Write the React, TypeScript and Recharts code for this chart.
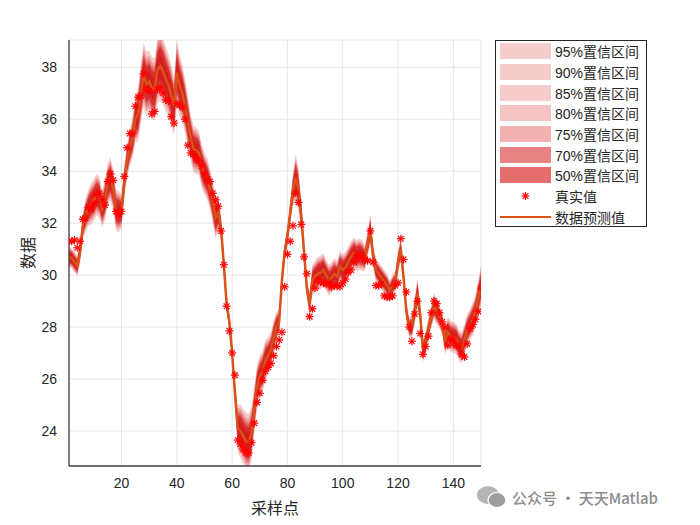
import React from 'react';
import { ComposedChart, Area, Line, Scatter, XAxis, YAxis, CartesianGrid } from 'recharts';

// sample index 1..150
const sampleIdx = Array.from({ length: 150 }, (_, i) => i + 1);

const actual = [
  31.3, 31.3, 31.35, 31.05, 31.3, 32.15, 32.2, 32.6, 32.55, 32.75,
  33.1, 33.15, 32.9, 32.7, 33.6, 33.9, 33.65, 32.45, 32.35, 32.45,
  33.8, 34.9, 35.45, 35.45, 36.5, 36.85, 36.9, 37.75, 37.15, 37.1,
  36.2, 36.3, 37.15, 37.2, 37.0, 36.75, 36.7, 36.1, 35.85, 36.6,
  36.55, 36.45, 36.0, 35.0, 34.7, 34.65, 34.5, 34.4, 34.2, 33.9,
  33.7, 33.6, 33.15, 32.9, 32.65, 31.7, 30.4, 28.8, 27.85, 27.0,
  26.15, 23.65, 23.5, 23.3, 23.15, 23.15, 23.55, 24.3, 25.1, 25.45,
  25.95, 26.3, 26.45, 26.6, 26.9, 27.25, 27.5, 27.8, 29.55, 30.8,
  31.3, 31.9, 33.15, 32.8, 31.95, 30.7, 30.05, 28.4, 28.7, 29.5,
  29.8, 29.75, 29.7, 29.65, 29.7, 29.55, 29.6, 29.6, 29.55, 29.7,
  29.85, 30.1, 30.2, 30.5, 30.75, 30.7, 30.75, 30.6, 30.55, 31.7,
  30.5, 29.6, 29.6, 29.65, 29.2, 29.15, 29.15, 29.2, 29.6, 29.7,
  31.4, 30.6, 29.35, 28.0, 27.45, 28.5, 29.0, 27.75, 26.95, 27.25,
  27.65, 28.55, 29.0, 28.9, 28.55, 28.2, 28.0, 27.3, 27.55, 27.5,
  27.3, 27.25, 26.95, 26.85, 27.35, 27.95, 28.1, 28.3, 28.6, 29.5,
];

const predicted = [
  30.7, 30.65, 30.5, 30.35, 30.9, 31.9, 32.3, 32.6, 32.75, 32.9,
  33.1, 33.0, 32.55, 32.9, 33.5, 33.7, 33.3, 32.5, 32.45, 32.45,
  33.6, 34.4, 34.9, 35.3, 36.0, 36.2, 37.0, 37.7, 37.35, 37.45,
  37.2, 37.15, 37.9, 38.05, 37.85, 37.55, 37.3, 36.9, 36.5, 37.8,
  37.3, 37.0, 36.5, 35.9, 35.3, 34.85, 34.8, 34.7, 34.2, 33.9,
  33.7, 33.3, 32.8, 32.2, 32.4, 31.8, 30.4, 28.9, 28.2, 27.0,
  25.5, 24.1, 24.0, 23.8, 23.6, 23.55, 23.9, 24.8, 25.7, 26.1,
  26.3, 26.7, 26.9, 27.1, 27.6, 28.0, 28.2, 29.8, 30.9, 31.5,
  32.4, 33.3, 33.75, 33.3, 32.3, 30.9, 29.5, 28.9, 29.8, 29.95,
  30.05, 30.1, 30.2, 30.0, 29.8, 29.9, 30.05, 29.95, 30.35, 30.2,
  30.3, 30.5, 30.7, 30.85, 30.75, 30.8, 30.75, 30.65, 31.2, 31.75,
  30.7, 30.2, 30.05, 29.9, 29.75, 29.6, 29.4, 29.6, 29.75, 30.5,
  31.0, 29.9, 28.6, 28.0, 28.0, 28.6, 29.3, 28.5, 27.1, 27.4,
  27.9, 28.4, 28.8, 28.6, 28.4, 28.1, 27.45, 27.8, 27.65, 27.6,
  27.55, 27.3, 27.2, 27.5, 27.9, 28.1, 28.3, 28.6, 29.1, 29.6,
];

// half width of the 95% interval
const spread95 = [
  0.4, 0.4, 0.4, 0.4, 0.45, 0.5, 0.65, 0.7, 0.8, 0.8,
  0.8, 0.8, 0.7, 0.8, 0.8, 0.85, 0.8, 0.8, 0.8, 0.65,
  0.65, 0.65, 0.7, 0.8, 0.9, 1.05, 1.15, 1.25, 1.25, 1.2,
  1.2, 1.2, 1.3, 1.35, 1.3, 1.25, 1.2, 1.2, 1.1, 1.25,
  1.2, 1.1, 1.05, 1.0, 0.9, 0.9, 0.9, 0.85, 0.85, 0.8,
  0.8, 0.8, 0.8, 0.8, 0.7, 0.5, 0.4, 0.35, 0.35, 0.4,
  0.5, 0.9, 1.05, 1.05, 1.1, 1.1, 1.05, 0.9, 0.85, 0.8,
  0.8, 0.8, 0.7, 0.7, 0.65, 0.6, 0.5, 0.45, 0.4, 0.4,
  0.45, 0.65, 0.9, 0.8, 0.6, 0.45, 0.4, 0.45, 0.6, 0.6,
  0.65, 0.65, 0.65, 0.6, 0.6, 0.6, 0.6, 0.6, 0.6, 0.6,
  0.6, 0.6, 0.6, 0.6, 0.6, 0.6, 0.6, 0.5, 0.5, 0.6,
  0.45, 0.45, 0.45, 0.45, 0.45, 0.45, 0.4, 0.4, 0.4, 0.45,
  0.45, 0.4, 0.35, 0.4, 0.45, 0.5, 0.6, 0.45, 0.45, 0.45,
  0.45, 0.45, 0.5, 0.5, 0.45, 0.45, 0.5, 0.6, 0.6, 0.6,
  0.6, 0.6, 0.6, 0.6, 0.6, 0.6, 0.65, 0.65, 0.7, 0.8,
];

const levels = [
  { name: '95%置信区间', z: 1.96, alpha: 0.21 },
  { name: '90%置信区间', z: 1.645, alpha: 0.21 },
  { name: '85%置信区间', z: 1.44, alpha: 0.22 },
  { name: '80%置信区间', z: 1.28, alpha: 0.25 },
  { name: '75%置信区间', z: 1.15, alpha: 0.33 },
  { name: '70%置信区间', z: 1.036, alpha: 0.53 },
  { name: '50%置信区间', z: 0.674, alpha: 0.62 },
];

const xTicks = [20, 40, 60, 80, 100, 120, 140];
const yTicks = [24, 26, 28, 30, 32, 34, 36, 38];

const BAND = '#D41414';
const LINE = '#D95319';
const MARK = '#FF0000';
const TXT = '#262626';
const FONT = '"Liberation Sans", Arial, "Noto Sans CJK SC", sans-serif';

const chartData = sampleIdx.map((x, i) => {
  const row: any = { x, actual: actual[i], predicted: predicted[i] };
  levels.forEach((lv, k) => {
    const hw = (spread95[i] * lv.z) / 1.96;
    row['b' + k] = [predicted[i] - hw, predicted[i] + hw];
  });
  return row;
});

const Star = (props: any) => {
  const { cx, cy } = props;
  if (cx == null || cy == null) return null;
  const r = 4;
  const d = r * 0.72;
  return (
    <g stroke={MARK} strokeWidth={1.2}>
      <line x1={cx - r} y1={cy} x2={cx + r} y2={cy} />
      <line x1={cx} y1={cy - r} x2={cx} y2={cy + r} />
      <line x1={cx - d} y1={cy - d} x2={cx + d} y2={cy + d} />
      <line x1={cx - d} y1={cy + d} x2={cx + d} y2={cy - d} />
    </g>
  );
};

const YTitle = (props: any) => {
  const vb = props.viewBox || {};
  const x = vb.x + 18;
  const y = vb.y + vb.height / 2;
  return (
    <text x={x} y={y} transform={`rotate(-90, ${x}, ${y})`} textAnchor="middle" dominantBaseline="central"
      fontSize={16} fill={TXT} fontFamily='"Noto Sans CJK SC", sans-serif'>
      数据
    </text>
  );
};

const XTitle = (props: any) => {
  const vb = props.viewBox || {};
  return (
    <text x={vb.x + vb.width / 2} y={vb.y + 41} textAnchor="middle" dominantBaseline="central"
      fontSize={16} fill={TXT} fontFamily='"Noto Sans CJK SC", sans-serif'>
      采样点
    </text>
  );
};

const LegendBox = () => (
  <div style={{
    position: 'absolute', left: 495, top: 40, width: 152, height: 187,
    border: `1px solid ${TXT}`, background: '#fff', boxSizing: 'border-box',
    fontFamily: FONT, fontSize: 14, color: TXT,
  }}>
    {levels.map((lv) => (
      <div key={lv.name} style={{ display: 'flex', alignItems: 'center', height: 20.7 }}>
        <div style={{ width: 51, height: 16, marginLeft: 4, background: BAND, opacity: lv.alpha }} />
        <span style={{ marginLeft: 4 }}>{lv.name}</span>
      </div>
    ))}
    <div style={{ display: 'flex', alignItems: 'center', height: 20.7 }}>
      <svg width={51} height={16} style={{ marginLeft: 4 }}><Star cx={25.5} cy={8} /></svg>
      <span style={{ marginLeft: 4 }}>真实值</span>
    </div>
    <div style={{ display: 'flex', alignItems: 'center', height: 20.7 }}>
      <svg width={51} height={16} style={{ marginLeft: 4 }}>
        <line x1={0} y1={8} x2={51} y2={8} stroke={LINE} strokeWidth={2} />
      </svg>
      <span style={{ marginLeft: 4 }}>数据预测值</span>
    </div>
  </div>
);

const Watermark = () => (
  <div style={{ position: 'absolute', left: 476, top: 484, display: 'flex', alignItems: 'center', color: '#8c8c8c' }}>
    <svg width={32} height={26}>
      <ellipse cx={12} cy={11} rx={11} ry={9} fill="#b5b5b5" />
      <ellipse cx={21} cy={16} rx={9} ry={7.5} fill="#9e9e9e" stroke="#fff" strokeWidth={1.2} />
    </svg>
    <span style={{ marginLeft: 4, fontSize: 15, fontFamily: '"Noto Sans CJK SC", sans-serif', fontWeight: 500 }}>
      公众号 · 天天Matlab
    </span>
  </div>
);

export default function App() {
  const tickStyle = { fontSize: 14, fill: TXT, fontFamily: FONT };
  const boxLine = { stroke: '#404040', strokeWidth: 1.3 };
  return (
    <div style={{ position: 'absolute', left: 0, top: 0, width: 700, height: 525, background: '#fff' }}>
      <ComposedChart width={700} height={525} data={chartData}
        margin={{ top: 40, right: 219, bottom: 4, left: 9 }}>
        <CartesianGrid stroke="#e6e6e6" strokeWidth={1} />
        <XAxis dataKey="x" type="number" domain={[1, 150]} ticks={xTicks} allowDataOverflow
          height={55} tick={tickStyle} tickLine={false} axisLine={boxLine}
          tickMargin={6} label={{ content: XTitle }} />
        <XAxis xAxisId="top" orientation="top" dataKey="x" type="number" domain={[1, 150]}
          height={0} tick={false} tickLine={false} axisLine={boxLine} />
        <YAxis type="number" domain={[22.65, 39.05]} ticks={yTicks} allowDataOverflow width={60}
          tick={tickStyle} tickLine={false} axisLine={boxLine}
          tickMargin={6} label={{ content: YTitle }} />
        <YAxis yAxisId="right" orientation="right" type="number" domain={[22.65, 39.05]} width={0}
          tick={false} tickLine={false} axisLine={boxLine} />
        {levels.map((lv, k) => (
          <Area key={lv.name} dataKey={'b' + k} type="linear" stroke="none" fill={BAND}
            fillOpacity={lv.alpha} dot={false} activeDot={false} isAnimationActive={false} />
        ))}
        <Scatter dataKey="actual" shape={(p: any) => <Star {...p} />} isAnimationActive={false} />
        <Line dataKey="predicted" type="linear" stroke={LINE} strokeWidth={2.5} dot={false}
          activeDot={false} isAnimationActive={false} />
      </ComposedChart>
      <LegendBox />
      <Watermark />
    </div>
  );
}
